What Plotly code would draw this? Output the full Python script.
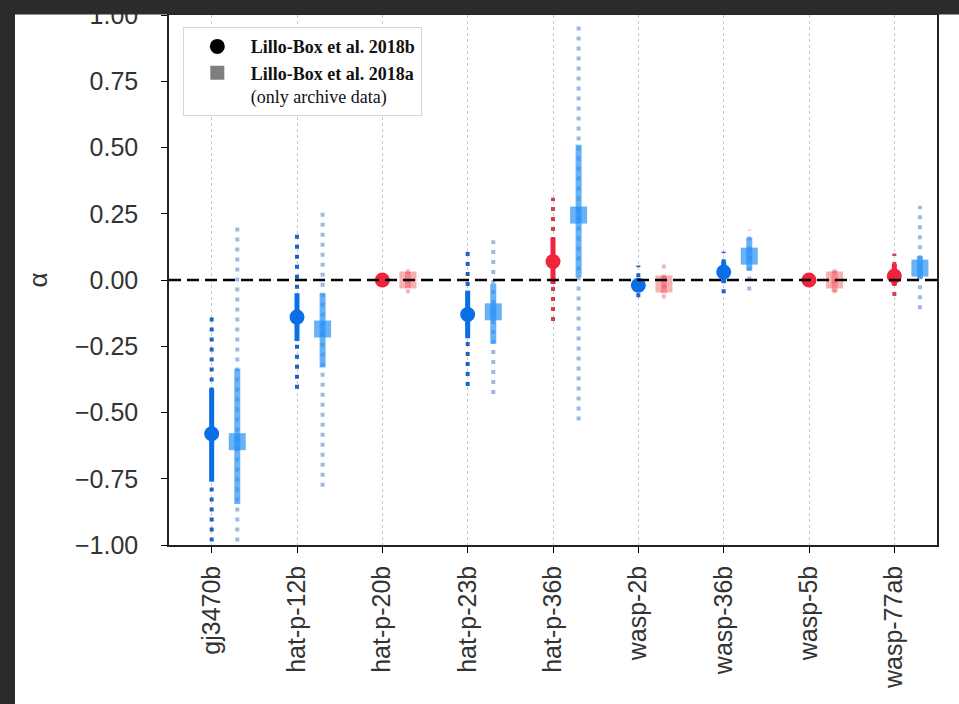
import numpy as np
import plotly.graph_objects as go

# Planets and spin-orbit alpha estimates
planets = ["gj3470b", "hat-p-12b", "hat-p-20b", "hat-p-23b", "hat-p-36b",
           "wasp-2b", "wasp-36b", "wasp-5b", "wasp-77ab"]

# Lillo-Box et al. 2018b (circles): median, 1-sigma and 2-sigma bounds
alpha_b = [-0.58, -0.14, 0.00, -0.13, 0.07, -0.02, 0.03, 0.00, 0.015]
lo1_b = [-0.76, -0.23, -0.005, -0.22, -0.015, -0.04, -0.01, -0.005, -0.02]
hi1_b = [-0.41, -0.05, 0.005, -0.04, 0.16, 0.00, 0.07, 0.005, 0.06]
lo2_b = [-1.10, -0.41, -0.01, -0.40, -0.155, -0.065, -0.05, -0.01, -0.06]
hi2_b = [-0.13, 0.18, 0.01, 0.12, 0.31, 0.055, 0.107, 0.01, 0.10]
color_b = ["blue", "blue", "red", "blue", "red", "blue", "blue", "red", "red"]

# Lillo-Box et al. 2018a (squares, archive data only)
alpha_a = [-0.61, -0.185, 0.00, -0.12, 0.245, -0.015, 0.09, 0.00, 0.045]
lo1_a = [-0.845, -0.33, -0.03, -0.24, 0.01, -0.05, 0.035, -0.045, 0.005]
hi1_a = [-0.335, -0.05, 0.03, -0.015, 0.51, 0.015, 0.16, 0.035, 0.09]
lo2_a = [-1.10, -0.78, -0.05, -0.43, -0.53, -0.07, -0.04, -0.05, -0.11]
hi2_a = [0.20, 0.26, 0.05, 0.15, 0.97, 0.08, 0.19, 0.05, 0.28]
color_a = ["blue", "blue", "red", "blue", "blue", "red", "blue", "red", "blue"]

yticks = [-1.0, -0.75, -0.5, -0.25, 0.0, 0.25, 0.5, 0.75, 1.0]

SQUARE_SHIFT = 0.3

styles = {
    "b": {
        "blue": dict(marker="#0a6fe6", bar="#0a6fe6", dots="#1c63c4"),
        "red": dict(marker="#f0243c", bar="#f0243c", dots="#d0404f"),
    },
    "a": {
        "blue": dict(marker="rgba(40,145,245,0.70)", bar="rgba(40,145,245,0.70)",
                     dots="rgba(80,130,200,0.55)"),
        "red": dict(marker="rgba(242,80,90,0.45)", bar="rgba(242,80,90,0.45)",
                    dots="rgba(220,90,100,0.45)"),
    },
}

fig = go.Figure()

datasets = [
    ("b", 0.0, alpha_b, lo1_b, hi1_b, lo2_b, hi2_b, color_b, "circle", 15, 5),
    ("a", SQUARE_SHIFT, alpha_a, lo1_a, hi1_a, lo2_a, hi2_a, color_a, "square", 17, 6),
]

# 2-sigma ranges as dotted vertical lines
for key, shift, val, lo1, hi1, lo2, hi2, cols, sym, msize, thick in datasets:
    for cname in ("blue", "red"):
        idx = [i for i, c in enumerate(cols) if c == cname]
        xs, ys = [], []
        for i in idx:
            xs += [i + shift, i + shift, None]
            ys += [lo2[i], hi2[i], None]
        fig.add_trace(go.Scatter(
            x=xs, y=ys, mode="lines", showlegend=False, hoverinfo="skip",
            line=dict(color=styles[key][cname]["dots"], width=4, dash="4px,6px"),
        ))

# medians with 1-sigma thick bars
for key, shift, val, lo1, hi1, lo2, hi2, cols, sym, msize, thick in datasets:
    for cname in ("blue", "red"):
        idx = [i for i, c in enumerate(cols) if c == cname]
        v = np.array(val)[idx]
        fig.add_trace(go.Scatter(
            x=np.array(idx) + shift, y=v, mode="markers", showlegend=False,
            marker=dict(symbol=sym, size=msize, color=styles[key][cname]["marker"],
                        line=dict(width=0)),
            error_y=dict(type="data", symmetric=False,
                         array=np.array(hi1)[idx] - v,
                         arrayminus=v - np.array(lo1)[idx],
                         color=styles[key][cname]["bar"], thickness=thick, width=0),
        ))

# legend entries
fig.add_trace(go.Scatter(
    x=[None], y=[None], mode="markers", name="<b>Lillo-Box et al. 2018b</b>",
    marker=dict(symbol="circle", size=15, color="black"),
))
fig.add_trace(go.Scatter(
    x=[None], y=[None], mode="markers",
    name="<b>Lillo-Box et al. 2018a</b><br>(only archive data)",
    marker=dict(symbol="square", size=14, color="#7f7f7f"),
))

DARK = "#2b2b2b"
fig.update_layout(
    width=959, height=704,
    margin=dict(l=169, r=22, t=15, b=159, autoexpand=False),
    paper_bgcolor="white", plot_bgcolor="white",
    font=dict(family="Liberation Sans, Arial, sans-serif", size=25, color="#333333"),
    showlegend=True,
    legend=dict(
        x=0.018, y=0.977, xanchor="left", yanchor="top",
        bgcolor="white", bordercolor="#d6d6d6", borderwidth=1,
        font=dict(family="Liberation Serif, serif", size=18, color="#111111"),
        itemwidth=57, valign="top", tracegroupgap=0,
    ),
    xaxis=dict(
        range=[-0.5, 8.5], tickmode="array", tickvals=list(range(len(planets))),
        ticktext=planets, tickangle=-90, ticks="outside", ticklen=6,
        tickcolor="black", ticklabelstandoff=3, automargin=False,
        showgrid=True, gridcolor="#c8c8c8", griddash="dot", gridwidth=1,
        showline=True, linecolor="#222222", linewidth=1.5, mirror=True,
        zeroline=False, tickfont=dict(size=25),
    ),
    yaxis=dict(
        range=[-1.0, 1.0], tickmode="array", tickvals=yticks, tickformat=".2f",
        ticks="outside", ticklen=6, tickcolor="black", ticklabelstandoff=18,
        showgrid=False, zeroline=False, automargin=False,
        showline=True, linecolor="#222222", linewidth=1.5, mirror=True,
        title=dict(text="α", standoff=20, font=dict(size=26)),
        tickfont=dict(size=25),
    ),
)

# zero reference line
fig.add_hline(y=0, line=dict(color="black", width=2.5, dash="12px,6px"), layer="above")

# dark window frame along the top and left edges
fig.add_shape(type="rect", xref="paper", yref="paper", layer="above",
              x0=-0.3, x1=1.1, y0=1.001, y1=1.2,
              fillcolor=DARK, line=dict(width=0))
fig.add_shape(type="rect", xref="paper", yref="paper", layer="above",
              x0=-0.3, x1=-154 / 768, y0=-0.4, y1=1.2,
              fillcolor=DARK, line=dict(width=0))

fig.write_html("out.html")
